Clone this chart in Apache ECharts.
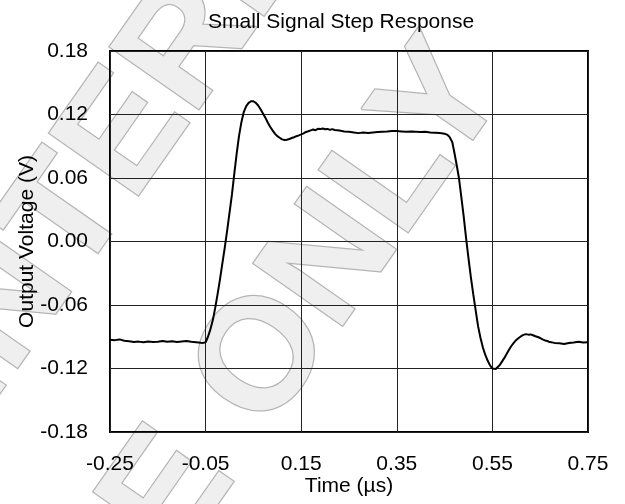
<!DOCTYPE html>
<html>
<head>
<meta charset="utf-8">
<script src="https://cdn.jsdelivr.net/npm/echarts@6/dist/echarts.min.js"></script>
<style>
  html, body { margin: 0; padding: 0; background: #fff; }
  #chart { width: 625px; height: 504px; }
</style>
</head>
<body>
<div id="chart"></div>
<script>
// ---- Data (time in µs, output in V) ----
var baselineBefore = [
  [-0.25,-0.0928],[-0.24,-0.0932],[-0.23,-0.0925],[-0.22,-0.0938],[-0.21,-0.0942],
  [-0.20,-0.0950],[-0.19,-0.0946],[-0.18,-0.0952],[-0.17,-0.0944],[-0.16,-0.0950],
  [-0.15,-0.0947],[-0.14,-0.0940],[-0.13,-0.0948],[-0.12,-0.0943],[-0.11,-0.0950],
  [-0.10,-0.0945],[-0.09,-0.0940],[-0.08,-0.0948],[-0.07,-0.0952],[-0.06,-0.0957],
  [-0.055,-0.0958],[-0.05,-0.0952]
];
var risingEdge = [
  [-0.048,-0.0940],[-0.045,-0.0900],[-0.040,-0.0830],[-0.035,-0.0745],[-0.030,-0.0630],
  [-0.025,-0.0500],[-0.020,-0.0360],[-0.015,-0.0210],[-0.010,-0.0060],[-0.005,0.0100],
  [0.000,0.0270],[0.005,0.0440],[0.010,0.0640],[0.015,0.0830],[0.020,0.1000],
  [0.025,0.1130],[0.030,0.1225],[0.035,0.1280],[0.040,0.1310],[0.045,0.1325],
  [0.050,0.1325],[0.055,0.1310],[0.060,0.1285],[0.065,0.1250],[0.070,0.1210],
  [0.075,0.1170],[0.080,0.1125],[0.085,0.1085],[0.090,0.1050],[0.095,0.1020],
  [0.100,0.0995],[0.105,0.0980],[0.110,0.0965],[0.115,0.0960],[0.120,0.0962],
  [0.125,0.0968],[0.130,0.0978],[0.135,0.0985],[0.140,0.0995],[0.145,0.1003]
];
var plateau = [
  [0.150,0.1012],[0.155,0.1022],[0.160,0.1035],[0.165,0.1042],[0.170,0.1050],
  [0.175,0.1058],[0.180,0.1052],[0.185,0.1065],[0.190,0.1062],[0.195,0.1068],
  [0.200,0.1060],[0.205,0.1064],[0.210,0.1055],[0.215,0.1062],[0.220,0.1054],
  [0.230,0.1048],[0.240,0.1040],[0.250,0.1036],[0.260,0.1030],[0.270,0.1024],
  [0.280,0.1030],[0.290,0.1026],[0.300,0.1030],[0.310,0.1034],[0.320,0.1038],
  [0.330,0.1040],[0.340,0.1044],[0.350,0.1044],[0.360,0.1040],[0.370,0.1036],
  [0.380,0.1040],[0.390,0.1038],[0.400,0.1034],[0.410,0.1036],[0.420,0.1030],
  [0.430,0.1028],[0.440,0.1025],[0.450,0.1018],[0.455,0.1010]
];
var fallingEdge = [
  [0.460,0.0990],[0.462,0.0980],[0.466,0.0940],[0.470,0.0850],[0.475,0.0730],
  [0.480,0.0600],[0.485,0.0420],[0.490,0.0235],[0.495,0.0030],[0.500,-0.0160],
  [0.505,-0.0340],[0.510,-0.0500],[0.515,-0.0650],[0.520,-0.0800],[0.525,-0.0910],
  [0.530,-0.1000],[0.535,-0.1070],[0.540,-0.1125],[0.545,-0.1170],[0.550,-0.1200],
  [0.553,-0.1212],[0.557,-0.1205],[0.560,-0.1195],[0.565,-0.1170],[0.570,-0.1135],
  [0.575,-0.1100],[0.580,-0.1060],[0.585,-0.1020],[0.590,-0.0985],[0.595,-0.0955]
];
var baselineAfter = [
  [0.600,-0.0930],[0.605,-0.0912],[0.610,-0.0895],[0.615,-0.0882],[0.620,-0.0875],
  [0.625,-0.0880],[0.630,-0.0878],[0.635,-0.0886],[0.640,-0.0895],[0.645,-0.0902],
  [0.650,-0.0912],[0.655,-0.0925],[0.660,-0.0935],[0.665,-0.0940],[0.670,-0.0950],
  [0.680,-0.0958],[0.690,-0.0962],[0.700,-0.0968],[0.710,-0.0960],[0.720,-0.0955],
  [0.730,-0.0948],[0.740,-0.0955],[0.750,-0.0952]
];

var titleText = 'Small Signal Step Response';
var xAxisName = 'Time (\u00b5s)';
var yAxisName = 'Output Voltage (V)';
var xMinTime = -0.25, xMaxTime = 0.75, xStep = 0.2;
var yMin = -0.18, yMax = 0.18, yStep = 0.06;

// The x axis is offset so ECharts counts ticks from -0.25 (axis runs 0..1 internally)
var X_OFFSET = -xMinTime;
var allPoints = baselineBefore.concat(risingEdge, plateau, fallingEdge, baselineAfter);
var seriesData = allPoints.map(function (p) { return [p[0] + X_OFFSET, p[1]]; });

var FONT = '"Liberation Sans", Arial, Helvetica, sans-serif';
var wmStyle = function (txt, align) {
  return {
    text: txt,
    font: 'bold 158px ' + FONT,
    fill: '#efefef',
    stroke: '#b4b4b4',
    lineWidth: 2.5,
    lineJoin: 'round',
    align: align, textAlign: align,
    verticalAlign: 'middle', textVerticalAlign: 'middle'
  };
};

var chart = echarts.init(document.getElementById('chart'), null, { renderer: 'canvas' });
chart.setOption({
  animation: false,
  backgroundColor: '#ffffff',
  title: {
    text: titleText,
    left: 203,
    top: 7,
    textStyle: { fontFamily: FONT, fontSize: 21, fontWeight: 'normal', color: '#000' }
  },
  graphic: [{
    type: 'group',
    x: 352, y: 236,
    rotation: 55 * Math.PI / 180,
    silent: true,
    z: -10,
    children: [
      { type: 'text', x: 45, y: -242, z: -10, silent: true, style: wmStyle('INTERNAL', 'center') },
      { type: 'text', x: -263, y: 0, z: -10, silent: true, style: wmStyle('USE', 'right') },
      { type: 'text', x: 0, y: 0, z: -10, silent: true, style: wmStyle('ONLY', 'center') }
    ]
  }],
  grid: {
    left: 110, right: 37, top: 51, bottom: 72,
    show: true,
    borderColor: '#000',
    borderWidth: 2,
    backgroundColor: 'transparent'
  },
  xAxis: {
    type: 'value',
    min: xMinTime + X_OFFSET,
    max: xMaxTime + X_OFFSET,
    interval: xStep,
    name: xAxisName,
    nameLocation: 'middle',
    nameGap: 44,
    nameMoveOverlap: false,
    nameTextStyle: { fontFamily: FONT, fontSize: 21, color: '#000' },
    axisLine: { show: false },
    axisTick: { show: false },
    axisLabel: {
      margin: 22,
      fontFamily: FONT, fontSize: 21, color: '#000',
      formatter: function (v) { return (v - X_OFFSET).toFixed(2); }
    },
    splitLine: { show: true, lineStyle: { color: '#222', width: 1 } }
  },
  yAxis: {
    type: 'value',
    min: yMin, max: yMax, interval: yStep,
    name: yAxisName,
    nameLocation: 'middle',
    nameGap: 72,
    nameMoveOverlap: false,
    nameTextStyle: { fontFamily: FONT, fontSize: 21, color: '#000' },
    axisLine: { show: false },
    axisTick: { show: false },
    axisLabel: {
      margin: 22,
      fontFamily: FONT, fontSize: 21, color: '#000',
      formatter: function (v) { return (Math.abs(v) < 1e-9 ? 0 : v).toFixed(2); }
    },
    splitLine: { show: true, lineStyle: { color: '#222', width: 1 } }
  },
  series: [{
    type: 'line',
    data: seriesData,
    showSymbol: false,
    symbol: 'none',
    smooth: false,
    lineStyle: { color: '#000', width: 2 },
    z: 3
  }]
});
</script>
</body>
</html>
